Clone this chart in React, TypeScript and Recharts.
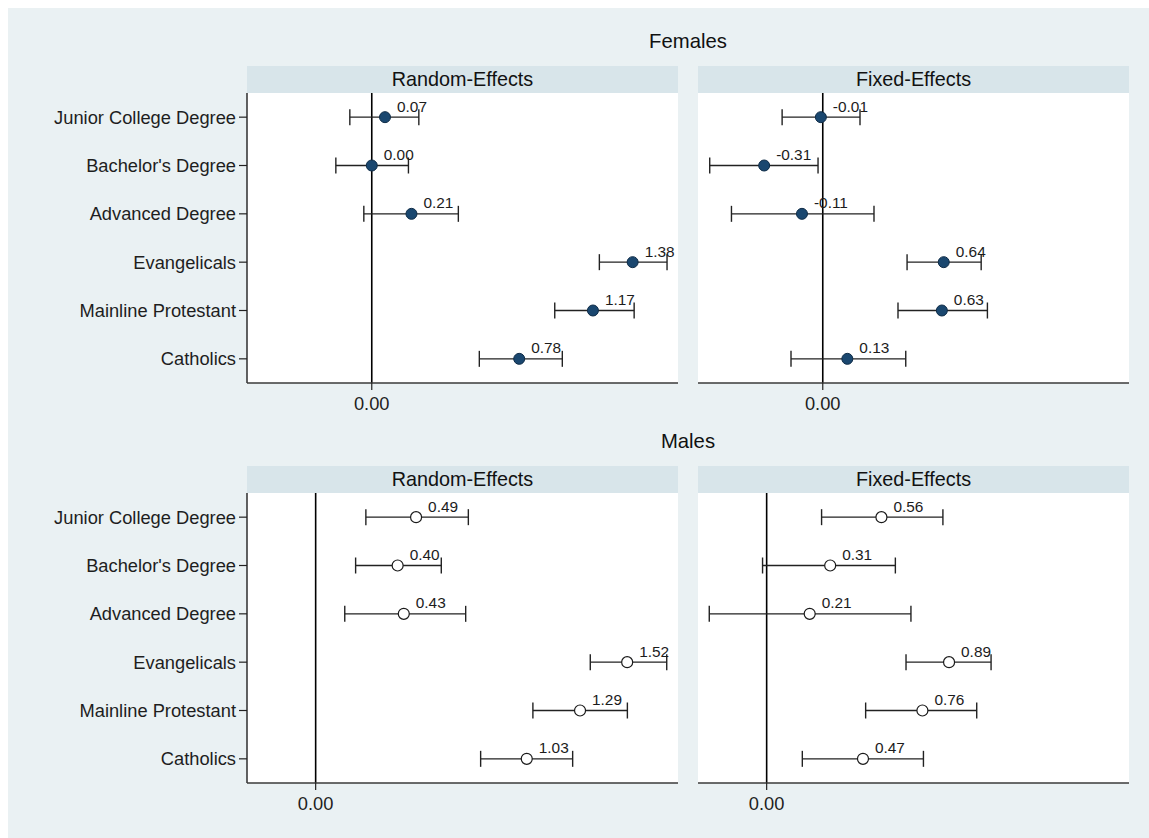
import React from 'react';
import { ScatterChart, Scatter, XAxis, YAxis, ErrorBar, ReferenceLine } from 'recharts';

const categories = [
  'Junior College Degree',
  "Bachelor's Degree",
  'Advanced Degree',
  'Evangelicals',
  'Mainline Protestant',
  'Catholics',
];

// Females
const femRandomEst = [0.07, 0.0, 0.21, 1.38, 1.17, 0.78];
const femRandomLo = [-0.116, -0.19, -0.042, 1.204, 0.968, 0.569];
const femRandomHi = [0.249, 0.194, 0.458, 1.562, 1.388, 1.008];

const femFixedEst = [-0.01, -0.31, -0.11, 0.64, 0.63, 0.13];
const femFixedLo = [-0.215, -0.598, -0.483, 0.446, 0.398, -0.168];
const femFixedHi = [0.197, -0.025, 0.271, 0.838, 0.871, 0.439];

// Males
const maleRandomEst = [0.49, 0.4, 0.43, 1.52, 1.29, 1.03];
const maleRandomLo = [0.245, 0.195, 0.142, 1.34, 1.06, 0.805];
const maleRandomHi = [0.745, 0.613, 0.732, 1.713, 1.521, 1.254];

const maleFixedEst = [0.56, 0.31, 0.21, 0.89, 0.76, 0.47];
const maleFixedLo = [0.268, -0.02, -0.28, 0.68, 0.483, 0.174];
const maleFixedHi = [0.86, 0.628, 0.704, 1.095, 1.025, 0.765];

const femDomain: [number, number] = [-0.66, 1.62];
const maleDomain: [number, number] = [-0.335, 1.768];
const xTicks = [0];

const FONT = '"Liberation Sans", Arial, "DejaVu Sans", sans-serif';
const BG = '#eaf1f3';
const STRIP = '#d8e5ea';
const NAVY = '#1a476f';

type Row = { cat: string; est: number; err: [number, number] };

const buildRows = (est: number[], lo: number[], hi: number[]): Row[] =>
  categories.map((cat, i) => ({ cat, est: est[i], err: [est[i] - lo[i], hi[i] - est[i]] }));

const fmt = (v: number) => v.toFixed(2);

const FilledDot = (props: any) => {
  const { cx, cy, payload } = props;
  return (
    <g>
      <circle cx={cx} cy={cy} r={5.5} fill={NAVY} stroke="#0f2c47" strokeWidth={1} />
      <text x={cx + 12} y={cy - 5.5} fontSize={15.4} fill="#1c1c1c">
        {fmt(payload.est)}
      </text>
    </g>
  );
};

const HollowDot = (props: any) => {
  const { cx, cy, payload } = props;
  return (
    <g>
      <circle cx={cx} cy={cy} r={5.5} fill="#ffffff" stroke="#1a1a1a" strokeWidth={1.2} />
      <text x={cx + 12} y={cy - 5.5} fontSize={15.4} fill="#1c1c1c">
        {fmt(payload.est)}
      </text>
    </g>
  );
};

interface PanelProps {
  title: string;
  rows: Row[];
  domain: [number, number];
  showY: boolean;
  hollow: boolean;
  left: number;
  top: number;
}

const PLOT_W = 431;
const PLOT_H = 290;
const YAXIS_W = 239;

const Panel: React.FC<PanelProps> = ({ title, rows, domain, showY, hollow, left, top }) => {
  const plotLeft = showY ? YAXIS_W : 0;
  return (
    <div style={{ position: 'absolute', left, top }}>
      <div
        style={{
          position: 'absolute',
          left: plotLeft,
          top: 0,
          width: PLOT_W,
          height: 27,
          background: STRIP,
          textAlign: 'center',
          lineHeight: '27px',
          fontSize: 19.8,
          color: '#111',
        }}
      >
        {title}
      </div>
      <div style={{ position: 'absolute', left: plotLeft, top: 27, width: PLOT_W, height: PLOT_H, background: '#fff' }} />
      <div style={{ position: 'absolute', left: 0, top: 27 }}>
        <ScatterChart
          width={plotLeft + PLOT_W}
          height={PLOT_H + 40}
          margin={{ top: 0, right: 0, bottom: 0, left: 0 }}
        >
          <XAxis
            type="number"
            dataKey="est"
            domain={domain}
            allowDataOverflow
            ticks={xTicks}
            tickFormatter={fmt}
            height={40}
            tickSize={7}
            tickMargin={7}
            axisLine={{ stroke: '#3a3a3a', strokeWidth: 1.6 }}
            tickLine={{ stroke: '#222', strokeWidth: 1.2 }}
            tick={{ fontSize: 18.3, fill: '#1e1e1e' }}
          />
          <YAxis
            type="category"
            dataKey="cat"
            reversed
            hide={!showY}
            width={YAXIS_W}
            tickSize={8}
            tickMargin={3}
            interval={0}
            axisLine={{ stroke: '#3a3a3a', strokeWidth: 1.6 }}
            tickLine={{ stroke: '#222', strokeWidth: 1.2 }}
            tick={{ fontSize: 18.3, fill: '#1e1e1e' }}
          />
          <ReferenceLine x={0} stroke="#000" strokeWidth={1.6} />
          <Scatter data={rows} shape={hollow ? HollowDot : FilledDot} isAnimationActive={false}>
            <ErrorBar dataKey="err" direction="x" width={8} stroke="#222" strokeWidth={1.4} />
          </Scatter>
        </ScatterChart>
      </div>
    </div>
  );
};

const App: React.FC = () => {
  const femRandom = buildRows(femRandomEst, femRandomLo, femRandomHi);
  const femFixed = buildRows(femFixedEst, femFixedLo, femFixedHi);
  const maleRandom = buildRows(maleRandomEst, maleRandomLo, maleRandomHi);
  const maleFixed = buildRows(maleFixedEst, maleFixedLo, maleFixedHi);

  return (
    <div
      style={{
        position: 'absolute',
        left: 8,
        top: 8,
        width: 1141,
        height: 830,
        background: BG,
        fontFamily: FONT,
        overflow: 'hidden',
      }}
    >
      <div style={{ position: 'absolute', left: 239, top: 20, width: 882, textAlign: 'center', fontSize: 20.3, lineHeight: '26px', color: '#111' }}>
        Females
      </div>
      <Panel title="Random-Effects" rows={femRandom} domain={femDomain} showY hollow={false} left={0} top={58} />
      <Panel title="Fixed-Effects" rows={femFixed} domain={femDomain} showY={false} hollow={false} left={690} top={58} />

      <div style={{ position: 'absolute', left: 239, top: 420, width: 882, textAlign: 'center', fontSize: 20.3, lineHeight: '26px', color: '#111' }}>
        Males
      </div>
      <Panel title="Random-Effects" rows={maleRandom} domain={maleDomain} showY hollow left={0} top={458} />
      <Panel title="Fixed-Effects" rows={maleFixed} domain={maleDomain} showY={false} hollow left={690} top={458} />
    </div>
  );
};

export default App;
